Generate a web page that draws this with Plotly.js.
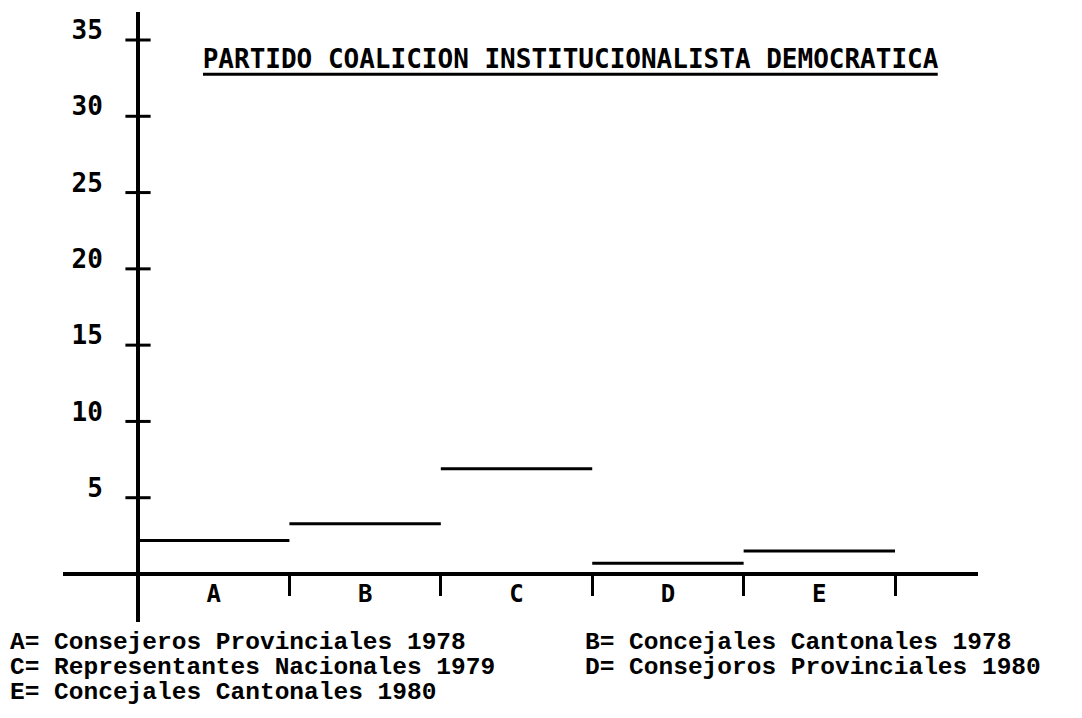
<!DOCTYPE html>
<html>
<head>
<meta charset="utf-8">
<script src="https://cdn.plot.ly/plotly-3.0.1.min.js"></script>
<style>html,body{margin:0;padding:0;background:#fff;}#chart{width:1082px;height:718px;}</style>
</head>
<body>
<div id="chart"></div>
<script>
// ---- data ----
const categories = ['A', 'B', 'C', 'D', 'E'];
const values = [2.2, 3.3, 6.9, 0.7, 1.5];
const yTickVals = [5, 10, 15, 20, 25, 30, 35];
const yTickText = ['5', '10', '15', '20', '25', '30', '35'];
const legendNames = [
  'Consejeros Provinciales 1978',
  'Concejales Cantonales 1978',
  'Representantes Nacionales 1979',
  'Consejoros Provinciales 1980',
  'Concejales Cantonales 1980'
];
const chartTitle = 'PARTIDO COALICION INSTITUCIONALISTA DEMOCRATICA';

// ---- build traces ----
const segX = [], segY = [];
categories.forEach((c, i) => { segX.push(i, i + 1, null); segY.push(values[i], values[i], null); });

const segTrace = {
  type: 'scatter', mode: 'lines', x: segX, y: segY,
  line: {color: '#000', width: 3}, connectgaps: false, hoverinfo: 'skip', showlegend: false
};
const yTickMarks = {
  type: 'scatter', mode: 'markers', x: yTickVals.map(() => 0), y: yTickVals,
  marker: {symbol: 'line-ew', size: 18, color: '#000', line: {color: '#000', width: 3}},
  hoverinfo: 'skip', showlegend: false
};

// ---- legend text (two columns) ----
const annFont = {family: 'Liberation Mono', size: 24.5, color: '#000', weight: 'bold'};
const colX = [-0.06, 0.568];
const rowY = [-0.033, -0.074, -0.115];
const annotations = categories.map((c, i) => ({
  xref: 'paper', yref: 'paper', x: colX[i % 2], y: rowY[Math.floor(i / 2)],
  xanchor: 'left', yanchor: 'middle', showarrow: false,
  text: c + '= ' + legendNames[i], font: annFont
}));

const layout = {
  width: 1082, height: 718,
  paper_bgcolor: '#fff', plot_bgcolor: '#fff',
  margin: {l: 63, r: 104, t: 12, b: 96},
  showlegend: false,
  title: {
    text: chartTitle, xref: 'container', yref: 'container',
    x: 0.5273, y: 0.918, xanchor: 'center', yanchor: 'middle',
    font: {family: 'DejaVu Sans Mono', size: 26, color: '#000', weight: 'bold'}
  },
  xaxis: {
    range: [-0.4954, 5.548], anchor: 'free', position: 0.0787,
    showline: true, linewidth: 4, linecolor: '#000',
    showgrid: false, zeroline: false,
    tickmode: 'array', tickvals: categories.map((c, i) => i + 0.5), ticktext: categories,
    ticks: '', tickfont: {family: 'DejaVu Sans Mono', size: 24, color: '#000', weight: 'bold'},
    ticklabelstandoff: -3,
    minor: {tickmode: 'array', tickvals: categories.map((c, i) => i + 1), ticks: 'outside',
            ticklen: 20, tickwidth: 3, tickcolor: '#000', showgrid: false},
    fixedrange: true
  },
  yaxis: {
    range: [-3.146, 36.835], anchor: 'free', position: 0.08197,
    showline: true, linewidth: 4, linecolor: '#000',
    showgrid: false, zeroline: false,
    tickmode: 'array', tickvals: yTickVals, ticktext: yTickText,
    ticks: '', tickfont: {family: 'DejaVu Sans Mono', size: 26, color: '#000', weight: 'bold'},
    ticklabelstandoff: 28, ticklabelshift: -10,
    fixedrange: true
  },
  shapes: [{
    type: 'line', xref: 'paper', yref: 'paper', x0: 0.153, x1: 0.956, y0: 0.898, y1: 0.898,
    line: {color: '#000', width: 3}
  }],
  annotations: annotations
};

Plotly.newPlot('chart', [segTrace, yTickMarks], layout, {displayModeBar: false, staticPlot: true});
</script>
</body>
</html>
